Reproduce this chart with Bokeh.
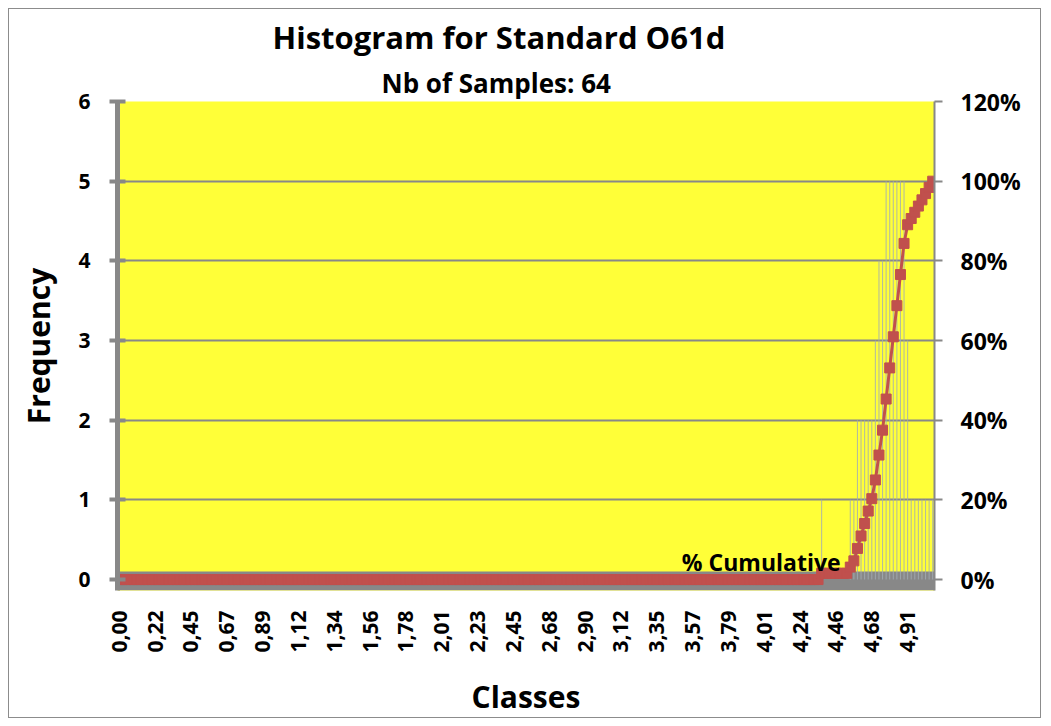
import numpy as np
from bokeh.plotting import figure
from bokeh.models import (Range1d, LinearAxis, FixedTicker, NumeralTickFormatter,
                          Label, ColumnDataSource, BoxAnnotation, Title)
from bokeh.embed import file_html
from bokeh.resources import INLINE

# ---------------- data ----------------
title_text = "Histogram for Standard O61d"
subtitle_text = "Nb of Samples: 64"
n_samples = 64
n_classes = 228
tick_positions = list(range(0, 221, 10))
tick_labels = ["0,00", "0,22", "0,45", "0,67", "0,89", "1,12", "1,34", "1,56",
               "1,78", "2,01", "2,23", "2,45", "2,68", "2,90", "3,12", "3,35",
               "3,57", "3,79", "4,01", "4,24", "4,46", "4,68", "4,91"]
first_nonzero_class = 196
freq_tail = [1, 0, 0, 0, 0, 0, 0, 0,
             1, 1, 2, 2, 2, 2, 2,
             3, 4, 4, 5, 5, 5, 5, 5, 5,
             3, 1, 1, 1, 1, 1, 1, 1]
series_label = "% Cumulative"

# ---------------- derived ----------------
freq = [0] * first_nonzero_class + freq_tail
idx = list(range(n_classes))
cum = list(np.cumsum(freq) / n_samples)
src = ColumnDataSource(dict(x=idx, freq=freq, cum=cum))

FONT = "Open Sans"
GRAY = "#888888"
RED = "#C0504D"

p = figure(width=1033, height=710,
           x_range=Range1d(-0.5, n_classes - 0.5),
           y_range=Range1d(-0.1375, 6),
           output_backend="svg", toolbar_location=None,
           min_border_left=108, min_border_right=108,
           min_border_top=91, min_border_bottom=128,
           background_fill_color="#FFFF38", border_fill_color="white",
           outline_line_color=None)
p.extra_y_ranges = {"pct": Range1d(-0.1375 / 5, 1.2)}
p.styles = {"margin-left": "8px", "margin-top": "8px",
            "border": "1px solid #8c8c8c"}

# titles (subtitle closest to the frame)
p.add_layout(Title(text=subtitle_text, align="left", offset=264,
                   text_font=FONT, text_font_size="26px",
                   text_font_style="bold", text_color="black", standoff=2),
             "above")
p.add_layout(Title(text=title_text, align="left", offset=155,
                   text_font=FONT, text_font_size="31px",
                   text_font_style="bold", text_color="black", standoff=8),
             "above")

# grid
p.xgrid.visible = False
p.ygrid.ticker = FixedTicker(ticks=[0, 1, 2, 3, 4, 5, 6])
p.ygrid.grid_line_color = GRAY
p.ygrid.grid_line_width = 2

# bottom gray band (thick category axis)
p.add_layout(BoxAnnotation(top=0.1, fill_color=GRAY, fill_alpha=1.0,
                           line_color=None, level="underlay"))

# left axis
ya = p.yaxis[0]
ya.ticker = FixedTicker(ticks=[0, 1, 2, 3, 4, 5, 6])
ya.axis_line_color = GRAY
ya.axis_line_width = 5
ya.major_tick_in = 8
ya.major_tick_out = 8
ya.major_tick_line_color = GRAY
ya.major_tick_line_width = 4
ya.minor_tick_line_color = None
ya.major_label_text_font = FONT
ya.major_label_text_font_size = "21px"
ya.major_label_text_font_style = "bold"
ya.major_label_text_color = "black"
ya.major_label_standoff = 19
ya.axis_label = "Frequency"
ya.axis_label_text_font = FONT
ya.axis_label_text_font_size = "30px"
ya.axis_label_text_font_style = "bold"
ya.axis_label_text_color = "black"
ya.axis_label_standoff = 16

# right axis
ra = LinearAxis(y_range_name="pct",
                ticker=FixedTicker(ticks=[0, 0.2, 0.4, 0.6, 0.8, 1.0, 1.2]),
                formatter=NumeralTickFormatter(format="0%"))
ra.axis_line_color = GRAY
ra.axis_line_width = 2
ra.major_tick_in = 0
ra.major_tick_out = 8
ra.major_tick_line_color = GRAY
ra.major_tick_line_width = 2
ra.minor_tick_line_color = None
ra.major_label_text_font = FONT
ra.major_label_text_font_size = "23px"
ra.major_label_text_font_style = "bold"
ra.major_label_text_color = "black"
ra.major_label_standoff = 18
p.add_layout(ra, "right")

# bottom axis
xa = p.xaxis[0]
xa.ticker = FixedTicker(ticks=tick_positions)
xa.major_label_overrides = {t: l for t, l in zip(tick_positions, tick_labels)}
xa.major_label_orientation = np.pi / 2
xa.axis_line_color = None
xa.major_tick_line_color = None
xa.minor_tick_line_color = None
xa.major_label_text_font = FONT
xa.major_label_text_font_size = "21px"
xa.major_label_text_font_style = "bold"
xa.major_label_text_color = "black"
xa.major_label_standoff = 14
xa.axis_label = "Classes"
xa.axis_label_text_font = FONT
xa.axis_label_text_font_size = "30px"
xa.axis_label_text_font_style = "bold"
xa.axis_label_text_color = "black"
xa.axis_label_standoff = 20

# histogram bars (thin)
p.vbar(x="x", top="freq", width=0.3, source=src,
       fill_color="#A3ACB4", fill_alpha=0.8, line_color=None)

# cumulative line
p.line(x="x", y="cum", source=src, y_range_name="pct",
       line_color=RED, line_width=3)
p.scatter(x="x", y="cum", source=src, y_range_name="pct",
          marker="square", size=10, fill_color=RED, line_color=RED)

# series name label inside the plot area
p.add_layout(Label(x=201.3, y=0.22, text=series_label, text_font=FONT,
                   text_font_size="23px", text_font_style="bold",
                   text_color="black", text_align="right",
                   text_baseline="alphabetic"))

open("out.html", "w").write(file_html(p, INLINE))
